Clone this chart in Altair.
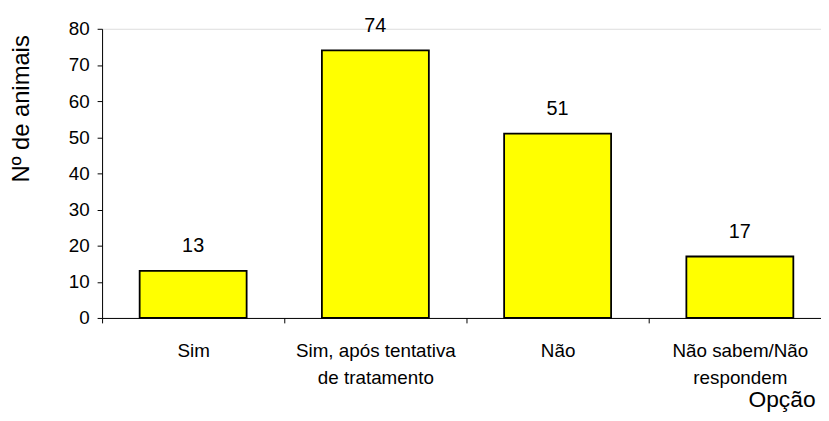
import altair as alt
import pandas as pd

categories = ["Sim", "Sim, após tentativa\nde tratamento", "Não", "Não sabem/Não\nrespondem"]
values = [13, 74, 51, 17]

df = pd.DataFrame({"opcao": categories, "n": values})

FONT = "Liberation Sans"

x = alt.X(
    "opcao:N",
    sort=categories,
    scale=alt.Scale(paddingInner=0.413, paddingOuter=0.179, align=0.576),
    axis=alt.Axis(
        title="Opção",
        titleFont=FONT, titleFontSize=23, titleFontWeight="normal", titleColor="black",
        titleX=720, titleY=89, titleAlign="right", titleBaseline="alphabetic", titleAnchor="start",
        labelFont=FONT, labelFontSize=19, labelColor="black", labelAngle=0,
        labelExpr="split(datum.label, '\\n')", labelLineHeight=27,
        labelPadding=19, labelBaseline="top",
        bandPosition=0, tickOffset=-38, labelOffset=38,
        tickSize=5, tickColor="black",
        domainColor="black", labelLimit=0,
    ),
)

y = alt.Y(
    "n:Q",
    scale=alt.Scale(domain=[0, 80], nice=False),
    axis=alt.Axis(
        title="Nº de animais",
        values=[0, 10, 20, 30, 40, 50, 60, 70, 80],
        grid=False,
        titleFont=FONT, titleFontSize=24, titleFontWeight="normal", titleColor="black",
        titleAngle=270, titleX=-81, titleY=6, titleAlign="right", titleBaseline="middle",
        labelFont=FONT, labelFontSize=19, labelColor="black", labelPadding=8,
        tickSize=5, tickColor="black", domainColor="black",
    ),
)

bars = alt.Chart(df).mark_bar(color="#FFFF00", stroke="black", strokeWidth=1.8).encode(x=x, y=y)
labels = alt.Chart(df).mark_text(
    font=FONT, fontSize=20, color="black", baseline="alphabetic", dy=-19
).encode(x=x, y=y, text="n:Q")

chart = (bars + labels).properties(
    width=726, height=292,
    autosize=alt.AutoSizeParams(type="none"),
    padding={"left": 95, "top": 19, "right": 0, "bottom": 94},
).configure_view(stroke=None).configure(background="white")

chart.save("out.html", embed_options={"renderer": "svg", "actions": False})
